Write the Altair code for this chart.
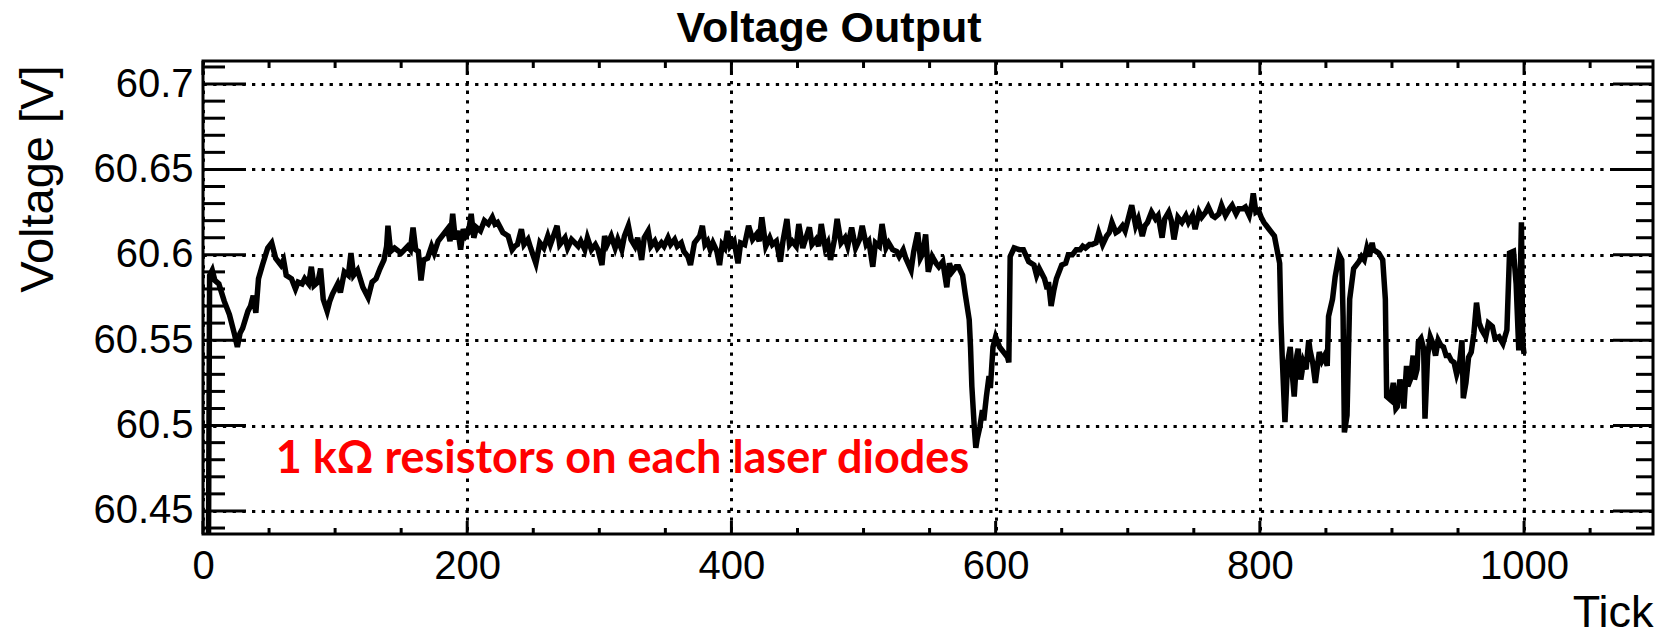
import altair as alt
import pandas as pd

# ---- data ----
ticks = [4, 5, 7, 9, 12, 16, 20, 24, 26, 28, 30, 34, 36, 38, 40, 42, 45, 49, 52, 55,
         59, 61, 63, 67, 70, 72, 75, 77, 80, 82, 84, 87, 89, 91, 94, 96, 98, 102, 104, 107,
         110, 112, 114, 117, 121, 125, 128, 131, 134, 137, 139, 140, 142, 145, 150, 155, 157, 159, 161, 163,
         165, 167, 170, 173, 175, 178, 181, 185, 187, 189, 191, 193, 195, 197, 199, 201, 203, 205, 207, 210,
         213, 216, 219, 221, 223, 227, 231, 234, 236, 238, 241, 243, 246, 248, 252, 255, 258, 261, 263, 268,
         270, 274, 276, 279, 284, 286, 289, 291, 294, 297, 299, 302, 304, 306, 309, 312, 314, 317, 319, 322,
         324, 327, 329, 332, 334, 337, 339, 342, 344, 347, 349, 352, 354, 357, 359, 362, 364, 367, 369, 372,
         374, 376, 378, 380, 382, 384, 386, 389, 391, 393, 395, 397, 399, 402, 405, 407, 410, 413, 416, 419,
         421, 423, 426, 429, 431, 434, 437, 439, 442, 444, 446, 449, 451, 454, 456, 459, 461, 464, 466, 468,
         471, 473, 475, 478, 480, 483, 486, 488, 491, 494, 497, 499, 502, 504, 507, 509, 512, 514, 517, 519,
         522, 525, 527, 530, 532, 536, 538, 541, 543, 545, 547, 549, 552, 555, 557, 560, 563, 565, 567, 570,
         572, 575, 577, 580, 581, 582, 584, 585, 586, 588, 590, 591, 593, 595, 596, 598, 600, 603, 606, 609,
         610, 611, 614, 618, 621, 625, 629, 631, 633, 637, 639, 640, 642, 644, 646, 650, 653, 655, 658, 661,
         664, 666, 668, 671, 673, 676, 678, 681, 684, 686, 688, 691, 693, 696, 698, 701, 703, 706, 708, 711,
         713, 715, 718, 721, 723, 726, 728, 731, 733, 735, 738, 741, 744, 746, 749, 751, 754, 756, 759, 761,
         764, 766, 769, 771, 774, 777, 779, 782, 784, 787, 789, 792, 794, 795, 797, 799, 801, 803, 805, 807,
         809, 811, 813, 815, 816, 817, 819, 821, 823, 824, 826, 828, 829, 831, 833, 835, 837, 838, 840, 842,
         845, 847, 849, 851, 852, 855, 857, 860, 862, 863, 864, 866, 868, 871, 875, 877, 879, 881, 883, 885,
         886, 888, 890, 893, 895, 896, 899, 901, 903, 904, 906, 908, 909, 911, 912, 914, 916, 917, 919, 920,
         922, 924, 925, 927, 929, 931, 933, 935, 937, 939, 941, 943, 945, 947, 949, 951, 953, 954, 956, 958,
         960, 962, 964, 966, 968, 971, 973, 976, 978, 981, 984, 987, 989, 992, 994, 996, 998, 999, 1000]

voltage = [60.400, 60.588, 60.591, 60.585, 60.583, 60.573, 60.565, 60.553, 60.546, 60.554,
           60.557, 60.567, 60.570, 60.576, 60.566, 60.586, 60.594, 60.604, 60.607, 60.598,
           60.594, 60.597, 60.588, 60.586, 60.580, 60.584, 60.583, 60.586, 60.583, 60.593,
           60.582, 60.584, 60.592, 60.574, 60.567, 60.573, 60.577, 60.583, 60.578, 60.590,
           60.588, 60.601, 60.588, 60.591, 60.581, 60.575, 60.584, 60.586, 60.592, 60.597,
           60.605, 60.617, 60.602, 60.604, 60.601, 60.605, 60.603, 60.616, 60.603, 60.602,
           60.585, 60.597, 60.598, 60.605, 60.601, 60.608, 60.611, 60.615, 60.608, 60.624,
           60.609, 60.614, 60.603, 60.615, 60.611, 60.613, 60.624, 60.610, 60.616, 60.614,
           60.620, 60.618, 60.622, 60.618, 60.619, 60.613, 60.611, 60.603, 60.605, 60.606,
           60.615, 60.606, 60.609, 60.604, 60.595, 60.607, 60.604, 60.611, 60.606, 60.617,
           60.606, 60.610, 60.604, 60.609, 60.605, 60.608, 60.603, 60.610, 60.603, 60.606,
           60.603, 60.594, 60.611, 60.606, 60.611, 60.604, 60.609, 60.603, 60.611, 60.617,
           60.609, 60.605, 60.610, 60.597, 60.610, 60.614, 60.605, 60.608, 60.604, 60.607,
           60.605, 60.610, 60.606, 60.609, 60.605, 60.607, 60.602, 60.599, 60.594, 60.607,
           60.609, 60.611, 60.617, 60.606, 60.608, 60.603, 60.607, 60.602, 60.594, 60.606,
           60.604, 60.614, 60.605, 60.608, 60.595, 60.607, 60.606, 60.617, 60.609, 60.612,
           60.608, 60.622, 60.605, 60.610, 60.606, 60.608, 60.596, 60.608, 60.621, 60.606,
           60.608, 60.605, 60.618, 60.604, 60.609, 60.616, 60.606, 60.609, 60.605, 60.618,
           60.604, 60.607, 60.597, 60.609, 60.621, 60.607, 60.610, 60.605, 60.616, 60.604,
           60.609, 60.617, 60.606, 60.608, 60.593, 60.607, 60.605, 60.618, 60.604, 60.607,
           60.603, 60.602, 60.599, 60.603, 60.598, 60.591, 60.602, 60.613, 60.598, 60.601,
           60.612, 60.590, 60.599, 60.595, 60.593, 60.596, 60.581, 60.595, 60.590, 60.593,
           60.593, 60.588, 60.577, 60.562, 60.546, 60.523, 60.497, 60.487, 60.492, 60.499,
           60.509, 60.503, 60.517, 60.529, 60.522, 60.546, 60.552, 60.546, 60.543, 60.540,
           60.537, 60.599, 60.604, 60.603, 60.603, 60.596, 60.594, 60.588, 60.592, 60.586,
           60.580, 60.584, 60.570, 60.579, 60.586, 60.594, 60.595, 60.600, 60.600, 60.603,
           60.603, 60.605, 60.604, 60.606, 60.606, 60.607, 60.613, 60.606, 60.611, 60.613,
           60.619, 60.613, 60.614, 60.617, 60.614, 60.623, 60.629, 60.617, 60.621, 60.611,
           60.617, 60.619, 60.625, 60.621, 60.623, 60.610, 60.621, 60.625, 60.620, 60.609,
           60.622, 60.619, 60.623, 60.619, 60.623, 60.615, 60.625, 60.622, 60.625, 60.628,
           60.623, 60.622, 60.624, 60.629, 60.623, 60.627, 60.629, 60.624, 60.627, 60.627,
           60.628, 60.623, 60.630, 60.636, 60.625, 60.626, 60.622, 60.619, 60.617, 60.615,
           60.613, 60.611, 60.603, 60.595, 60.560, 60.539, 60.502, 60.537, 60.546, 60.535,
           60.517, 60.541, 60.545, 60.527, 60.537, 60.533, 60.550, 60.544, 60.537, 60.525,
           60.543, 60.538, 60.541, 60.535, 60.564, 60.574, 60.587, 60.600, 60.597, 60.564,
           60.496, 60.506, 60.574, 60.592, 60.596, 60.599, 60.597, 60.604, 60.599, 60.607,
           60.603, 60.602, 60.601, 60.597, 60.574, 60.517, 60.515, 60.525, 60.510, 60.511,
           60.527, 60.517, 60.510, 60.535, 60.523, 60.527, 60.541, 60.527, 60.533, 60.549,
           60.551, 60.545, 60.504, 60.541, 60.552, 60.548, 60.541, 60.550, 60.547, 60.546,
           60.541, 60.541, 60.538, 60.537, 60.530, 60.535, 60.550, 60.516, 60.525, 60.540,
           60.543, 60.554, 60.572, 60.560, 60.556, 60.552, 60.560, 60.558, 60.551, 60.552,
           60.548, 60.556, 60.601, 60.602, 60.583, 60.544, 60.619, 60.548, 60.542]

x_major = [0, 200, 400, 600, 800, 1000]
x_minor = [50, 100, 150, 250, 300, 350, 450, 500, 550, 650, 700, 750, 850, 900, 950, 1050]
y_major = [60.45, 60.5, 60.55, 60.6, 60.65, 60.7]
y_minor = [60.44, 60.46, 60.47, 60.48, 60.49, 60.51, 60.52, 60.53, 60.54, 60.56,
           60.57, 60.58, 60.59, 60.61, 60.62, 60.63, 60.64, 60.66, 60.67, 60.68,
           60.69, 60.71]

title_text = "Voltage Output"
x_title = "Tick"
y_title = "Voltage [V]"
note_text = ["1 k\u03a9 resistors on each laser diodes"]
note_tick = [55]
note_volt = [60.472]

W, H = 1450, 473
FONT = "Liberation Sans"

xs = alt.Scale(domain=[0, 1097.6], nice=False, zero=False)
ys = alt.Scale(domain=[60.4365, 60.7135], nice=False, zero=False)

x_axis = alt.Axis(
    values=x_major, title=x_title, format="d",
    labelFont=FONT, labelFontSize=40, labelColor="black", labelPadding=12,
    ticks=False, domain=False, labelFlush=False, labelOverlap=False,
    grid=True, gridColor="black", gridWidth=3, gridDash=[3.3, 6.4], gridOpacity=1,
    titleFont=FONT, titleFontSize=45, titleFontWeight="normal", titleColor="black",
    titleAnchor="end", titleAlign="right", titleBaseline="alphabetic",
    titleX=W, titleY=92)

y_axis = alt.Axis(
    values=y_major, title=y_title, format="~g",
    labelFont=FONT, labelFontSize=40, labelColor="black", labelPadding=10,
    ticks=False, domain=False, labelFlush=False, labelOverlap=False,
    grid=True, gridColor="black", gridWidth=3, gridDash=[3.3, 6.4], gridOpacity=1,
    titleFont=FONT, titleFontSize=47, titleFontWeight="normal", titleColor="black",
    titleAngle=270, titleAlign="right", titleBaseline="alphabetic",
    titleX=-151, titleY=4)

X = alt.X("t:Q", scale=xs, axis=x_axis)
Y = alt.Y("v:Q", scale=ys, axis=y_axis)

df = pd.DataFrame({"t": ticks, "v": voltage})

line = alt.Chart(df).mark_line(color="black", strokeWidth=5.5, clip=True).encode(x=X, y=Y)

ymaj = pd.DataFrame({"v": y_major})
ymin = pd.DataFrame({"v": y_minor})
xmaj = pd.DataFrame({"t": x_major})
xmin = pd.DataFrame({"t": x_minor})


def yrule(data, x0, x1):
    return alt.Chart(data).mark_rule(color="black", strokeWidth=3).encode(
        y=Y, x=alt.value(x0), x2=alt.value(x1))


def xrule(data, y0, y1):
    return alt.Chart(data).mark_rule(color="black", strokeWidth=3).encode(
        x=X, y=alt.value(y0), y2=alt.value(y1))


tick_layers = [
    yrule(ymaj, 0, 43), yrule(ymin, 0, 22),
    yrule(ymaj, W - 40, W), yrule(ymin, W - 17, W),
    xrule(xmaj, H - 13, H), xrule(xmin, H - 6, H),
    xrule(xmaj, 0, 14), xrule(xmin, 0, 7),
]

note = alt.Chart(pd.DataFrame({"t": note_tick, "v": note_volt, "label": note_text})).mark_text(
    align="left", baseline="alphabetic", font="Lato", fontWeight="bold",
    fontSize=45, color="#ff0000").encode(x=X, y=Y, text="label:N")

chart = alt.layer(line, *tick_layers, note).properties(
    width=W, height=H,
    title=alt.TitleParams(title_text, font=FONT, fontSize=43, fontWeight="bold",
                          color="black", anchor="middle", dx=-99, dy=48, frame="group",
                          baseline="alphabetic", offset=23),
    padding={"left": 203, "top": 61, "right": 5, "bottom": 102},
    autosize=alt.AutoSizeParams(type="none"),
    background="white",
).configure_view(stroke="black", strokeWidth=3)

chart.save("out.html", embed_options={"renderer": "svg", "actions": False})
